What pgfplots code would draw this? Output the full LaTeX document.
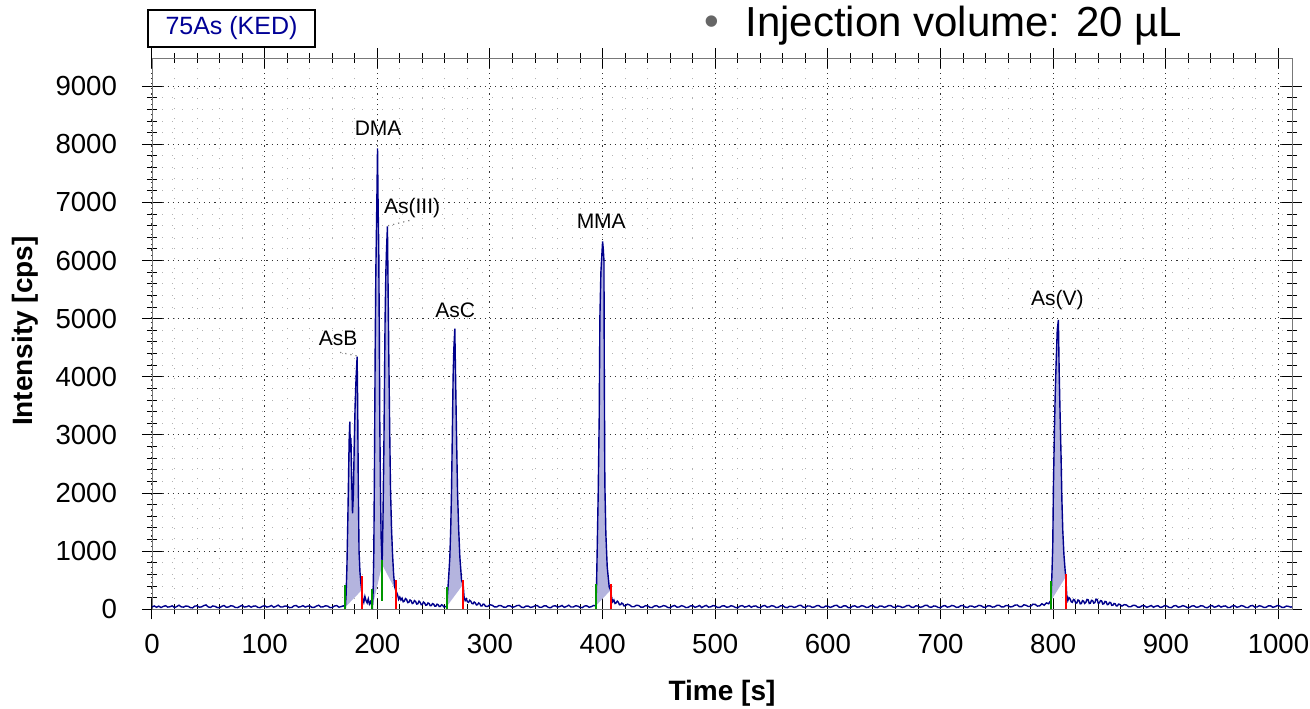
\documentclass[border=0pt]{standalone}
\usepackage{fontspec}
\setmainfont{Liberation Sans}
\usepackage{pgfplots}
\pgfplotsset{compat=1.18}
\definecolor{trace}{RGB}{0,0,140}
\definecolor{area}{RGB}{180,180,222}
\definecolor{startc}{RGB}{0,150,0}
\definecolor{endc}{RGB}{255,0,0}
\definecolor{labelblue}{RGB}{0,0,150}
\definecolor{framegray}{RGB}{120,120,120}

\begin{document}
\begin{tikzpicture}
\useasboundingbox (-76pt,-49.35pt) rectangle (579pt,304.65pt);
\begin{axis}[
    at={(0,0)}, anchor=south west,
    scale only axis, width=570pt, height=275.5pt,
    xmin=0, xmax=1012, ymin=0, ymax=9480,
    xtick distance=100, ytick distance=1000, minor tick num=4,
    axis line style={framegray},
    tick style={black, line width=0.5pt},
    tick align=center,
    major tick length=10pt, minor tick length=5pt,
    xmajorgrids, ymajorgrids, xminorgrids, yminorgrids,
    major grid style={black!80, dash pattern=on 0.6pt off 2pt, line width=0.5pt},
    minor grid style={black!30, dash pattern=on 0.6pt off 4.4pt, line width=0.5pt},
    tick label style={font=\fontsize{13.8}{14}\selectfont},
    /pgf/number format/assume math mode=true,
    /pgf/number format/set thousands separator={},
    xticklabel style={yshift=-4pt},
    yticklabel style={xshift=-9pt},
    xlabel={Time [s]}, ylabel={Intensity [cps]},
    every axis x label/.style={at={(axis description cs:0.5,-0.153)}, anchor=center,
        font=\bfseries\fontsize{14}{14}\selectfont},
    every axis y label/.style={at={(axis description cs:-0.1114,0.505)}, rotate=90, anchor=center,
        font=\bfseries\fontsize{14}{14}\selectfont},
]
% integrated peak areas
\addplot[fill=area, draw=none] coordinates {
    (171.7,40) (172.3,250) (173,700) (173.8,1500) (174.5,2300) (175,2900) (175.6,3230)
    (176.1,2700) (176.6,2950) (177.2,2300) (178,1650) (178.8,2000) (179.5,2800) (180.3,3500)
    (181.2,4000) (182.1,4345) (182.6,3500) (183.1,2200) (183.8,1000) (184.6,650) (185.4,450) (186.2,330)
};
\addplot[fill=area, draw=none] coordinates {
    (195.7,40) (196.3,300) (196.9,960) (197.5,2500) (198.1,4400) (198.7,5800) (199.3,6600)
    (199.8,7300) (200.2,7930) (200.7,7000) (201.3,6200) (201.8,4700) (202.2,3260) (202.8,2100)
    (203.4,1240) (204.3,770)
};
\addplot[fill=area, draw=none] coordinates {
    (204.3,770) (205,1500) (205.8,2690) (206.4,3900) (206.9,4980) (207.6,5800) (208.2,6200)
    (209,6586) (209.6,5500) (210.2,4400) (211,3100) (211.7,2100) (212.6,1400) (213.5,960)
    (214.5,600) (215.5,380) (216.3,330) (217,300)
};
\addplot[fill=area, draw=none] coordinates {
    (261.7,50) (262.6,330) (263.5,600) (264.4,900) (265.2,1400) (265.9,2050) (266.6,3000)
    (267.3,4000) (268,4500) (268.8,4830) (269.5,4000) (270.3,3030) (271.2,2050) (272.2,1400)
    (273.3,900) (274.8,500) (276.2,430)
};
\addplot[fill=area, draw=none] coordinates {
    (394,60) (394.6,380) (395.2,1020) (396.1,2000) (397,3310) (397.6,5020) (398.5,5800)
    (400,6330) (400.6,6200) (401.2,6000) (401.5,4170) (402,2170) (402.9,1300) (404.1,730)
    (405.9,380) (407.1,330)
};
\addplot[fill=area, draw=none] coordinates {
    (798.1,150) (798.7,500) (799.6,1070) (800.2,2100) (801.1,3090) (801.8,3700) (802.6,4240)
    (803.6,4800) (804.6,4980) (805.3,4100) (806.1,3370) (807,2620) (807.7,1900) (808.5,1360)
    (809.5,950) (810.6,670) (811.2,560)
};
% chromatogram trace
\addplot[trace, line width=0.7pt] coordinates {
    (0,40) (2,58) (4,35) (6,55) (8,30) (10,50) (12,62) (14,38) (16,45) (18,60) (20,28) (22,48)
    (24,70) (26,42) (28,38) (30,57) (32,52) (34,30) (36,25) (38,55) (40,60) (42,36) (44,42)
    (46,64) (48,75) (50,40) (52,33) (54,58) (56,50) (58,31) (60,27) (62,52) (64,65) (66,35)
    (68,40) (70,62) (72,55) (74,32) (76,30) (78,50) (80,68) (82,39) (84,44) (86,60) (88,36)
    (90,54) (92,58) (94,33) (96,29) (98,52) (100,62) (102,38) (104,47) (106,66) (108,35)
    (110,50) (112,72) (114,41) (116,40) (118,57) (120,53) (122,30) (124,31) (126,59) (128,66)
    (130,37) (132,45) (134,63) (136,38) (138,52) (140,60) (142,33) (144,34) (146,56) (148,70)
    (150,39) (152,43) (154,61) (156,55) (158,30) (160,32) (162,57) (164,64) (166,36) (168,48)
    (170,60)
    (171.7,40) (172.3,250) (173,700) (173.8,1500) (174.5,2300) (175,2900) (175.6,3230)
    (176.1,2700) (176.6,2950) (177.2,2300) (178,1650) (178.8,2000) (179.5,2800) (180.3,3500)
    (181.2,4000) (182.1,4345) (182.6,3500) (183.1,2200) (183.8,1000) (184.6,650) (185.4,450) (186.2,330)
    (187,180) (188,120) (189,220) (190,150) (191,110) (192,180) (193,90) (194,130) (195,70)
    (195.7,40) (196.3,300) (196.9,960) (197.5,2500) (198.1,4400) (198.7,5800) (199.3,6600)
    (199.8,7300) (200.2,7930) (200.7,7000) (201.3,6200) (201.8,4700) (202.2,3260) (202.8,2100)
    (203.4,1240) (204.3,770)
    (205,1500) (205.8,2690) (206.4,3900) (206.9,4980) (207.6,5800) (208.2,6200)
    (209,6586) (209.6,5500) (210.2,4400) (211,3100) (211.7,2100) (212.6,1400) (213.5,960)
    (214.5,600) (215.5,380) (216.3,330) (217,300)
    (218,250) (219,170) (220,210) (221,160) (222,190) (223,130) (224,140) (225,185) (226,170)
    (227,115) (228,120) (229,160) (230,150) (231,100) (232,110) (233,150) (234,135) (235,90)
    (236,95) (237,140) (238,120) (239,80) (240,85) (241,125) (242,110) (243,70) (244,75)
    (245,110) (246,100) (247,62) (248,65) (249,98) (250,90) (251,55) (252,55) (253,88) (254,80)
    (255,48) (256,50) (257,78) (258,70) (259,42) (260,45)
    (261.7,50) (262.6,330) (263.5,600) (264.4,900) (265.2,1400) (265.9,2050) (266.6,3000)
    (267.3,4000) (268,4500) (268.8,4830) (269.5,4000) (270.3,3030) (271.2,2050) (272.2,1400)
    (273.3,900) (274.8,500) (276.2,430)
    (277,220) (278,150) (279,180) (280,130) (281,120) (282,155) (283,140) (284,100) (285,95)
    (286,125) (287,110) (288,75) (289,80) (290,110) (291,95) (292,58) (293,60) (294,90) (295,85)
    (296,52) (298,50) (300,78) (302,70) (304,42) (306,40) (308,66) (310,62) (312,38) (314,35)
    (316,60) (318,58) (320,34) (322,45) (324,64) (326,68) (328,37) (330,30) (332,56) (334,55)
    (336,33) (338,42) (340,60) (342,64) (344,35) (346,36) (348,59) (350,58) (352,31) (354,28)
    (356,55) (358,62) (360,38) (362,47) (364,66) (366,33) (368,50) (370,70) (372,39) (374,40)
    (376,61) (378,55) (380,32) (382,30) (384,57) (386,60) (388,36) (390,45) (392,66)
    (394,60) (394.6,380) (395.2,1020) (396.1,2000) (397,3310) (397.6,5020) (398.5,5800)
    (400,6330) (400.6,6200) (401.2,6000) (401.5,4170) (402,2170) (402.9,1300) (404.1,730)
    (405.9,380) (407.1,330)
    (408,200) (409,130) (410,160) (411,100) (412,110) (413,140) (414,120) (415,78) (416,80)
    (417,108) (418,95) (419,58) (420,60) (422,88) (424,75) (426,44) (428,45) (430,70) (432,65)
    (434,36) (436,38) (438,62) (440,58) (442,33) (444,30) (446,57) (448,62) (450,38) (452,44)
    (454,64) (456,55) (458,31) (460,28) (462,54) (464,66) (466,37) (468,40) (470,63) (472,52)
    (474,30) (476,34) (478,58) (480,60) (482,35) (484,45) (486,66) (488,30) (490,52) (492,68)
    (494,38) (496,42) (498,64) (500,56) (502,32) (504,33) (506,57) (508,61) (510,36) (512,40)
    (514,62) (516,52) (518,31) (520,27) (522,55) (524,64) (526,38) (528,46) (530,65) (532,35)
    (534,54) (536,58) (538,33) (540,30) (542,56) (544,66) (546,37) (548,42) (550,63) (552,55)
    (554,30) (556,36) (558,60) (560,62) (562,35) (564,29) (566,53) (568,50) (570,32) (572,44)
    (574,64) (576,70) (578,38) (580,33) (582,58) (584,56) (586,34) (588,40) (590,62) (592,63)
    (594,36) (596,31) (598,56) (600,52) (602,33) (604,45) (606,65) (608,68) (610,37) (612,35)
    (614,60) (616,58) (618,30) (620,28) (622,54) (624,60) (626,36) (628,42) (630,64) (632,54)
    (634,32) (636,37) (638,61) (640,65) (642,35) (644,30) (646,57) (648,55) (650,34) (652,46)
    (654,66) (656,62) (658,36) (660,34) (662,58) (664,50) (666,31) (668,41) (670,63) (672,67)
    (674,38) (676,33) (678,59) (680,57) (682,34) (684,44) (686,66) (688,70) (690,40) (692,36)
    (694,58) (696,53) (698,31) (700,29) (702,56) (704,64) (706,37) (708,45) (710,66) (712,58)
    (714,34) (716,38) (718,62) (720,66) (722,38) (724,32) (726,57) (728,55) (730,36) (732,47)
    (734,68) (736,61) (738,37) (740,35) (742,60) (744,58) (746,38) (748,43) (750,68) (752,70)
    (754,42) (756,40) (758,66) (760,62) (762,40) (764,48) (766,72) (768,75) (770,45) (772,45)
    (774,78) (776,68) (778,48) (780,52) (782,88) (784,85) (786,55) (788,60) (790,95) (792,70)
    (794,110) (796,95) (797,130)
    (798.1,150) (798.7,500) (799.6,1070) (800.2,2100) (801.1,3090) (801.8,3700) (802.6,4240)
    (803.6,4800) (804.6,4980) (805.3,4100) (806.1,3370) (807,2620) (807.7,1900) (808.5,1360)
    (809.5,950) (810.6,670) (811.2,560)
    (812,250) (813,150) (814,200) (815,180) (816,130) (817,120) (818,170) (819,160) (820,105)
    (821,110) (822,160) (823,150) (824,95) (825,100) (826,150) (827,140) (828,100) (829,120)
    (830,170) (831,165) (832,100) (833,105) (834,155) (835,150) (836,105) (837,115) (838,175)
    (839,170) (840,105) (841,110) (842,150) (843,145) (844,90) (845,95) (846,135) (847,130)
    (848,80) (849,85) (850,120) (851,115) (852,68) (853,70) (854,100) (855,95) (856,58) (857,60)
    (858,90) (859,85) (861,55) (863,80) (865,75) (867,44) (869,45) (871,70) (873,66) (875,37)
    (877,38) (879,63) (881,60) (883,34) (885,48) (887,66) (889,35) (891,54) (893,62) (895,33)
    (897,42) (899,64) (901,55) (903,31) (905,30) (907,58) (909,64) (911,36) (913,44) (915,63)
    (917,52) (919,30) (921,33) (923,57) (925,60) (927,35) (929,40) (931,62) (933,57) (935,31)
    (937,29) (939,55) (941,65) (943,36) (945,46) (947,66) (949,37) (951,54) (953,58) (955,30)
    (957,32) (959,57) (961,62) (963,35) (965,43) (967,64) (969,55) (971,32) (973,30) (975,58)
    (977,66) (979,37) (981,41) (983,62) (985,52) (987,31) (989,36) (991,59) (993,60) (995,34)
    (997,45) (999,65) (1001,58) (1003,33) (1005,34) (1007,56) (1009,50) (1011,36) (1012,44)
};
% peak start / end markers
\addplot[startc, line width=1pt] coordinates {(171.7,0) (171.7,420)};
\addplot[endc, line width=1pt] coordinates {(186.2,0) (186.2,570)};
\addplot[startc, line width=1pt] coordinates {(195.7,0) (195.7,350)};
\addplot[startc, line width=1pt] coordinates {(204.6,150) (204.6,850)};
\addplot[endc, line width=1pt] coordinates {(217,0) (217,500)};
\addplot[startc, line width=1pt] coordinates {(261.7,0) (261.7,380)};
\addplot[endc, line width=1pt] coordinates {(276.2,0) (276.2,500)};
\addplot[startc, line width=1pt] coordinates {(394,0) (394,430)};
\addplot[endc, line width=1pt] coordinates {(407.1,0) (407.1,430)};
\addplot[startc, line width=1pt] coordinates {(798.1,0) (798.1,490)};
\addplot[endc, line width=1pt] coordinates {(811.2,0) (811.2,600)};
% label leaders
\addplot[gray, dotted, line width=0.6pt] coordinates {(200.4,7950) (200.4,8100)};
\addplot[gray, dotted, line width=0.6pt] coordinates {(209.5,6600) (231,6700)};
\addplot[gray, dotted, line width=0.6pt] coordinates {(167,4420) (182,4360)};
% peak names
\begin{scope}[every node/.style={font=\fontsize{10.5}{11}\selectfont, inner sep=0pt}]
\node at (axis cs:200.7,8284) {DMA};
\node at (axis cs:230.9,6908) {As(III)};
\node at (axis cs:165.2,4669) {AsB};
\node at (axis cs:269.1,5152) {AsC};
\node at (axis cs:398.8,6669) {MMA};
\node at (axis cs:803.7,5324) {As(V)};
\end{scope}
\end{axis}
\node[draw=black, line width=0.6pt, minimum width=83.5pt, minimum height=18.5pt, inner sep=0pt,
      text=labelblue, font=\fontsize{12.5}{13}\selectfont] at (39.75pt,290.4pt) {75As (KED)};
\node[text=black!60, font=\fontsize{21}{21}\selectfont] at (280pt,292pt) {•};
\node[anchor=base west, inner sep=0pt, font=\fontsize{21}{21}\selectfont] at (296.5pt,286.5pt) {Injection volume: 20 µL};
\end{tikzpicture}
\end{document}
